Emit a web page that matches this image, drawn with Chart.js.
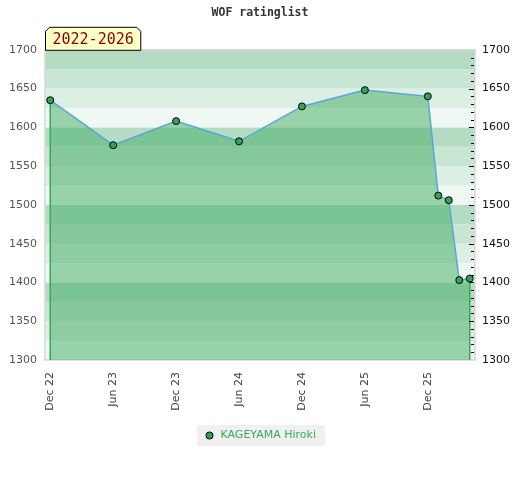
<!DOCTYPE html>
<html>
<head>
<meta charset="utf-8">
<script src="https://cdn.jsdelivr.net/npm/chart.js@4.4.1/dist/chart.umd.min.js"></script>
<style>
  html, body { margin: 0; padding: 0; background: #fff; }
</style>
</head>
<body>
<canvas id="ratingChart" width="520" height="480"></canvas>
<script>
// months counted from Dec 2022
const months = [0, 6, 12, 18, 24, 30, 36, 37, 38, 39, 40];
const ratings = [1635, 1577, 1608, 1582, 1627, 1648, 1640, 1512, 1506, 1403, 1405];
const tickMonths = [0, 6, 12, 18, 24, 30, 36];
const tickLabels = ['Dec 22', 'Jun 23', 'Dec 23', 'Jun 24', 'Dec 24', 'Jun 25', 'Dec 25'];
const playerName = 'KAGEYAMA Hiroki';
const periodLabel = '2022-2026';

const axisFont = { family: 'DejaVu Sans', size: 11 };

// striped background + plot border
const bandsPlugin = {
    id: 'bands',
    beforeDatasetsDraw(chart, args, opts) {
        const { ctx, chartArea: a, scales: { y } } = chart;
        ctx.save();
        for (let v = y.min; v < y.max; v += opts.step) {
            const top = y.getPixelForValue(v + opts.step);
            const bottom = y.getPixelForValue(v);
            ctx.fillStyle = opts.colors[3 - (v % 100) / opts.step];
            ctx.fillRect(a.left, top, a.right - a.left, bottom - top);
        }
        ctx.strokeStyle = opts.borderColor;
        ctx.lineWidth = 1.5;
        ctx.strokeRect(a.left, a.top, a.right - a.left, a.bottom - a.top);
        ctx.restore();
    }
};

// vertical edges of the filled area
const edgesPlugin = {
    id: 'edges',
    beforeDatasetDraw(chart, args, opts) {
        const pts = args.meta.data;
        if (!pts.length) return;
        const { ctx, chartArea: a } = chart;
        const first = pts[0], last = pts[pts.length - 1];
        ctx.save();
        ctx.strokeStyle = opts.color;
        ctx.lineWidth = 1.5;
        ctx.beginPath();
        ctx.moveTo(first.x, first.y);
        ctx.lineTo(first.x, a.bottom);
        ctx.moveTo(last.x, last.y);
        ctx.lineTo(last.x, a.bottom);
        ctx.stroke();
        ctx.restore();
    }
};

// grey box behind the legend
const legendBoxPlugin = {
    id: 'legendBox',
    beforeDraw(chart, args, opts) {
        const boxes = chart.legend && chart.legend.legendHitBoxes;
        if (!boxes || !boxes.length) return;
        const b = boxes[0];
        const ctx = chart.ctx;
        ctx.save();
        ctx.fillStyle = opts.color;
        ctx.fillRect(b.left - 7, b.top - 5, b.width + 16, b.height + 10);
        ctx.restore();
    }
};

// minor ticks on the right axis, period tag on top-left
const extrasPlugin = {
    id: 'extras',
    afterDraw(chart, args, opts) {
        const { ctx, chartArea: a, scales: { y2 } } = chart;
        ctx.save();
        ctx.strokeStyle = '#000';
        ctx.lineWidth = 1;
        ctx.beginPath();
        for (let v = y2.min + 10; v < y2.max; v += 10) {
            const py = Math.round(y2.getPixelForValue(v)) + 0.5;
            const len = v % 50 === 0 ? 5 : 3;
            ctx.moveTo(a.right - 1 - len, py);
            ctx.lineTo(a.right - 1, py);
        }
        ctx.stroke();

        ctx.font = '15px "DejaVu Sans Mono"';
        const w = ctx.measureText(opts.text).width + 14;
        const h = 23, c = 4;
        const x0 = a.left + 0.5, y0 = a.top - h + 0.5;
        ctx.beginPath();
        ctx.moveTo(x0, y0 + h);
        ctx.lineTo(x0, y0 + c);
        ctx.lineTo(x0 + c, y0);
        ctx.lineTo(x0 + w - c, y0);
        ctx.lineTo(x0 + w, y0 + c);
        ctx.lineTo(x0 + w, y0 + h);
        ctx.closePath();
        ctx.fillStyle = '#ffffc8';
        ctx.fill();
        ctx.strokeStyle = '#000';
        ctx.stroke();
        ctx.fillStyle = '#8b0000';
        ctx.textBaseline = 'middle';
        ctx.fillText(opts.text, x0 + 7, y0 + 13);
        ctx.restore();
    }
};

new Chart(document.getElementById('ratingChart'), {
    type: 'line',
    data: {
        datasets: [{
            label: playerName,
            data: months.map((m, i) => ({ x: m, y: ratings[i] })),
            borderColor: '#5ba3dc',
            borderWidth: 1.5,
            backgroundColor: 'rgba(73, 175, 104, 0.53)',
            fill: 'start',
            tension: 0,
            pointRadius: 3.5,
            pointBackgroundColor: '#33a35a',
            pointBorderColor: '#000',
            pointBorderWidth: 1,
            clip: false
        }]
    },
    options: {
        responsive: false,
        animation: false,
        layout: { padding: { left: 0, right: 0, top: 0, bottom: 29 } },
        scales: {
            x: {
                type: 'linear',
                min: -0.5,
                max: 40.5,
                afterBuildTicks: s => { s.ticks = tickMonths.map(v => ({ value: v })); },
                afterFit: s => { s.height = 60; },
                grid: { display: false, drawTicks: false },
                border: { display: false },
                ticks: {
                    autoSkip: false,
                    minRotation: 90,
                    maxRotation: 90,
                    padding: 12,
                    color: '#444',
                    font: axisFont,
                    callback: (v, i) => tickLabels[i]
                }
            },
            y: {
                position: 'left',
                min: 1300,
                max: 1700,
                afterFit: s => { s.width = 45; },
                grid: { display: false, drawTicks: false },
                border: { display: false },
                ticks: { stepSize: 50, padding: 8, color: '#555', font: axisFont, callback: v => String(v) }
            },
            y2: {
                position: 'right',
                min: 1300,
                max: 1700,
                afterFit: s => { s.width = 45; },
                grid: { display: false, drawTicks: false },
                border: { display: false },
                ticks: { stepSize: 50, padding: 7, color: '#111', font: axisFont, callback: v => String(v) }
            }
        },
        plugins: {
            title: {
                display: true,
                text: 'WOF ratinglist',
                color: '#333',
                font: { family: 'DejaVu Sans Mono', size: 11.5, weight: 'bold' },
                padding: { top: 6, bottom: 30 }
            },
            legend: {
                position: 'bottom',
                labels: {
                    usePointStyle: true,
                    pointStyle: 'circle',
                    boxWidth: 11,
                    boxHeight: 5,
                    padding: 10,
                    color: '#3ca860',
                    font: { family: 'DejaVu Sans', size: 11 }
                }
            },
            tooltip: { enabled: false },
            bands: {
                step: 25,
                colors: ['#b3dcc3', '#c8e6d3', '#dcefe3', '#eff8f2'],
                borderColor: '#d6d6d6'
            },
            edges: { color: '#36a65a' },
            legendBox: { color: '#f0f0f0' },
            extras: { text: periodLabel }
        }
    },
    plugins: [bandsPlugin, edgesPlugin, legendBoxPlugin, extrasPlugin]
});
</script>
</body>
</html>
